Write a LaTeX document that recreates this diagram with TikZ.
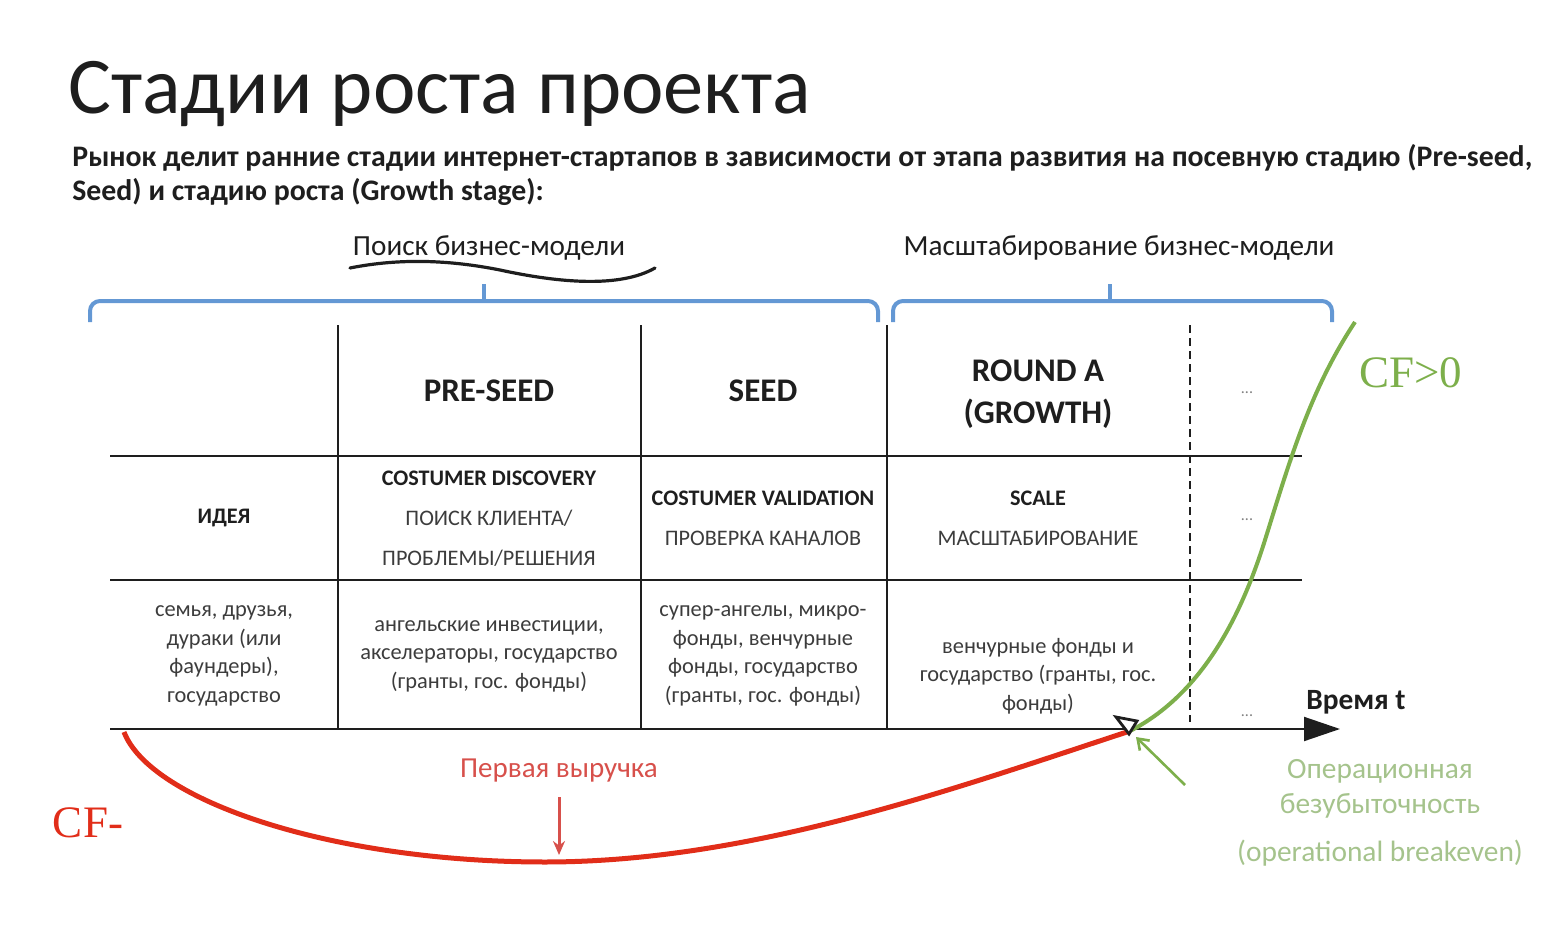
\documentclass[tikz,border=0pt]{standalone}
\usepackage{fontspec}
\setmainfont{Carlito}
\newfontfamily\seriffont{Liberation Serif}
\usetikzlibrary{arrows.meta}
\definecolor{braceblue}{RGB}{100,152,212}
\definecolor{cfred}{RGB}{225,45,25}
\definecolor{redtext}{RGB}{215,80,75}
\definecolor{cfgreen}{RGB}{125,175,75}
\definecolor{greentext}{RGB}{165,195,140}
\definecolor{ink}{RGB}{30,30,30}
\definecolor{cellgray}{RGB}{60,60,60}
\tikzset{
  grid/.style={draw=ink, line width=1pt},
  brace/.style={draw=braceblue, line width=2pt, rounded corners=5pt},
  head/.style={font=\fontsize{16.5}{21}\selectfont\bfseries, text=ink, align=center},
  caps/.style={font=\fontsize{11.1}{20}\selectfont, text=cellgray, align=center},
  capsbold/.style={font=\fontsize{11.1}{12}\selectfont\bfseries, text=ink},
  fund/.style={font=\fontsize{11.2}{14.3}\selectfont, text=cellgray, align=center},
  dots/.style={font=\fontsize{8}{9}\selectfont, text=gray},
  greenlbl/.style={font=\fontsize{14.7}{16}\selectfont, text=greentext},
}
\begin{document}
\begin{tikzpicture}[x=0.5pt,y=-0.5pt]
\useasboundingbox (0,0) rectangle (1560,926);

% title and subtitle
\node[anchor=base west, inner sep=0pt, text=ink, font=\fontsize{40.2}{44}\selectfont] (title) at (68,113) {Стадии роста проекта};
\node[anchor=base west, inner sep=0pt, text=ink, font=\fontsize{14.9}{17}\selectfont\bfseries] (sub1) at (72,166)
  {Рынок делит ранние стадии интернет-стартапов в зависимости от этапа развития на посевную стадию (Pre-seed,};
\node[anchor=base west, inner sep=0pt, text=ink, font=\fontsize{14.9}{17}\selectfont\bfseries] (sub2) at (72,200)
  {Seed) и стадию роста (Growth stage):};

% braces and their labels
\node[font=\fontsize{14.6}{16}\selectfont, text=ink] (search) at (489,248) {Поиск бизнес-модели};
\node[font=\fontsize{14.6}{16}\selectfont, text=ink] (scalelbl) at (1119,248) {Масштабирование бизнес-модели};
\draw[line width=1.6pt, line cap=round, ink] (350,268) .. controls (400,258) and (450,260) .. (500,270)
  .. controls (560,283) and (620,288) .. (655,268);
\draw[brace] (90,322) -- (90,301) -- (878,301) -- (878,322);
\draw[brace] (484,301) -- (484,284);
\draw[brace] (893,322) -- (893,301) -- (1332,301) -- (1332,322);
\draw[brace] (1110,301) -- (1110,284);

% table grid
\draw[grid] (110,456) -- (1302,456);
\draw[grid] (110,580) -- (1302,580);
\draw[grid] (338,325) -- (338,729);
\draw[grid] (641,325) -- (641,729);
\draw[grid] (887,325) -- (887,729);
\draw[ink, line width=1pt, dashed, dash pattern=on 4pt off 2.5pt] (1190,325) -- (1190,722);

% header row
\node[head] (preseed) at (489,391) {PRE-SEED};
\node[head] (seed) at (763,391) {SEED};
\node[head] (rounda) at (1038,394) {ROUND A\\(GROWTH)};
\node[dots] (d1) at (1247,393) {...};

% stage row
\node[capsbold] (idea) at (224,518) {ИДЕЯ};
\node[capsbold] (cdisc) at (489,478) {COSTUMER DISCOVERY};
\node[caps] (cdisc2) at (489,538) {ПОИСК КЛИЕНТА/\\ПРОБЛЕМЫ/РЕШЕНИЯ};
\node[capsbold] (cval) at (763,498) {COSTUMER VALIDATION};
\node[caps] (cval2) at (763,538) {ПРОВЕРКА КАНАЛОВ};
\node[capsbold] (scl) at (1038,498) {SCALE};
\node[caps] (scl2) at (1038,538) {МАСШТАБИРОВАНИЕ};
\node[dots] (d2) at (1247,520) {...};

% funding row
\node[fund] (f1) at (224,656) {семья, друзья,\\дураки (или\\фаундеры),\\государство};
\node[fund] (f2) at (489,656) {ангельские инвестиции,\\акселераторы, государство\\(гранты, гос. фонды)};
\node[fund] (f3) at (763,656) {супер-ангелы, микро-\\фонды, венчурные\\фонды, государство\\(гранты, гос. фонды)};
\node[fund] (f4) at (1038,676) {венчурные фонды и\\государство (гранты, гос.\\фонды)};
\node[dots] (d3) at (1247,716) {...};

% time axis
\coordinate (axstart) at (110,729);
\coordinate (axend) at (1340,729);
\draw[ink, line width=1pt, -{Triangle[length=18pt, width=12pt]}] (axstart) -- (axend);
\node[anchor=base west, inner sep=0pt, text=ink, font=\fontsize{14.7}{16}\selectfont\bfseries] (time) at (1306,709) {Время t};

% cash-flow curves
\coordinate (cfstart) at (124,732);
\coordinate (cfmin) at (545,862);
\coordinate (be) at (1130,731);
\coordinate (cfend) at (1355,322);
\draw[cfred, line width=2.5pt] (cfstart) .. controls (150,800) and (330,862) .. (cfmin)
  .. controls (750,862) and (950,790) .. (be);
\draw[cfgreen, line width=2pt] (be) .. controls (1200,695) and (1240,620) .. (1265,540)
  .. controls (1290,460) and (1310,390) .. (cfend);
\draw[ink, line width=1.4pt, fill=white, line join=miter] (1116,717) -- (1137,721) -- (1129,734) -- cycle;

% labels of the curves
\node[font=\seriffont\fontsize{22.5}{24}\selectfont, text=cfred] (cfneg) at (88,823) {CF-};
\node[font=\seriffont\fontsize{22.5}{24}\selectfont, text=cfgreen] (cfpos) at (1411,373) {CF>0};
\node[font=\fontsize{14.5}{16}\selectfont, text=redtext] (rev) at (559,771) {Первая выручка};
\coordinate (revtip) at (559,855);
\draw[redtext, line width=1.5pt, -{Stealth[length=7pt, width=6pt]}] (rev.south |- 0,797) -- (revtip);

\node[greenlbl] (op1) at (1380,771) {Операционная};
\node[greenlbl] (op2) at (1380,806) {безубыточность};
\node[greenlbl] (op3) at (1380,853) {(operational breakeven)};
\coordinate (betail) at (1185,785);
\draw[cfgreen, line width=1.3pt, -{Straight Barb[length=5pt, width=7pt]}] (betail) -- (1136,737);
\end{tikzpicture}
\end{document}
